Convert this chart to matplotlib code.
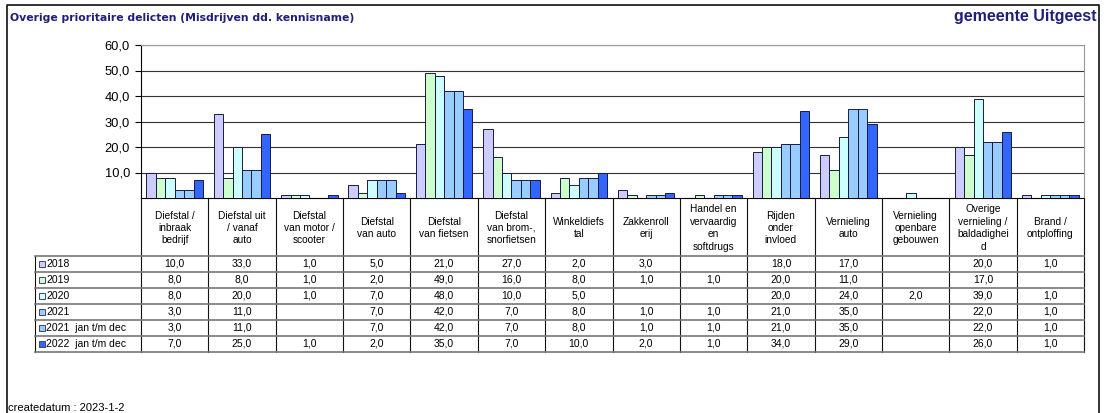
import numpy as np
import matplotlib
matplotlib.use('Agg')
import matplotlib.pyplot as plt
from matplotlib.patches import Rectangle

plt.rcParams['font.family'] = ['Liberation Sans', 'DejaVu Sans']

categories = ["Diefstal /\ninbraak\nbedrijf", "Diefstal uit\n/ vanaf\nauto",
              "Diefstal\nvan motor /\nscooter", "Diefstal\nvan auto",
              "Diefstal\nvan fietsen", "Diefstal\nvan brom-,\nsnorfietsen",
              "Winkeldiefs\ntal", "Zakkenroll\nerij",
              "Handel en\nvervaardig\nen\nsoftdrugs", "Rijden\nonder\ninvloed",
              "Vernieling\nauto", "Vernieling\nopenbare\ngebouwen",
              "Overige\nvernieling /\nbaldadighei\nd", "Brand /\nontploffing"]

series_names = ["2018", "2019", "2020", "2021", "2021  jan t/m dec", "2022  jan t/m dec"]
nan = np.nan
v2018 = [10, 33, 1, 5, 21, 27, 2, 3, nan, 18, 17, nan, 20, 1]
v2019 = [8, 8, 1, 2, 49, 16, 8, 1, 1, 20, 11, nan, 17, nan]
v2020 = [8, 20, 1, 7, 48, 10, 5, nan, nan, 20, 24, 2, 39, 1]
v2021 = [3, 11, nan, 7, 42, 7, 8, 1, 1, 21, 35, nan, 22, 1]
v2021_jd = [3, 11, nan, 7, 42, 7, 8, 1, 1, 21, 35, nan, 22, 1]
v2022_jd = [7, 25, 1, 2, 35, 7, 10, 2, 1, 34, 29, nan, 26, 1]
series = [v2018, v2019, v2020, v2021, v2021_jd, v2022_jd]
colors = ['#ccccff', '#ccffcc', '#ccffff', '#99ccff', '#99ccff', '#3366ff']

W, H = 1106, 413
fig = plt.figure(figsize=(W / 100, H / 100), dpi=100)

# plot area in pixels
px_l, px_r, px_t, px_b = 141, 1084, 45, 198
ax = fig.add_axes([px_l / W, 1 - px_b / H, (px_r - px_l) / W, (px_b - px_t) / H])
n = len(categories)
bw = 0.14
x = np.arange(n)
for k, (vals, c) in enumerate(zip(series, colors)):
    ax.bar(x + 0.08 + k * bw, vals, width=bw, align='edge', color=c,
           edgecolor='#1a1a40', linewidth=0.7, zorder=3)
ax.set_xlim(0, n)
ax.set_ylim(0, 60)
yt = [10, 20, 30, 40, 50, 60]
ax.set_yticks(yt)
ax.set_yticklabels([('%.1f' % t).replace('.', ',') for t in yt])
ax.tick_params(axis='y', length=4, width=0.8, labelsize=9.3, pad=4)
ax.set_xticks([])
ax.grid(axis='y', color='#333333', linewidth=0.8, zorder=0)
for s in ['top', 'right']:
    ax.spines[s].set_color('#999999')
ax.spines['left'].set_color('black')
ax.spines['bottom'].set_color('black')

# overlay in pixel coordinates for frame, titles and table
ov = fig.add_axes([0, 0, 1, 1], zorder=5)
ov.set_xlim(0, W)
ov.set_ylim(H, 0)
ov.axis('off')
ov.patch.set_alpha(0)

ov.plot([7, 7, 1099, 1099], [H, 5, 5, H], color='#222222', lw=1.3)
ov.text(10, 18, "Overige prioritaire delicten (Misdrijven dd. kennisname)",
        fontsize=7.8, fontweight='bold', color='#1f1f7a', va='center',
        family=['DejaVu Sans'])
ov.text(1097, 17, "gemeente Uitgeest", fontsize=11.5, fontweight='bold',
        color='#1f1f7a', va='center', ha='right')
ov.text(8, 408, "createdatum : 2023-1-2", fontsize=8, va='center')

# table
col_w = (px_r - px_l) / n
hdr_t, hdr_b = 198, 256
row_h = 16
lab_l = 35
nrows = len(series)
tab_b = hdr_b + nrows * row_h
for i in range(n + 1):
    xx = px_l + i * col_w
    ov.plot([xx, xx], [hdr_t, tab_b], color='#111111', lw=0.8)
ov.plot([lab_l, lab_l], [hdr_b, tab_b], color='#111111', lw=0.8)
for r in range(nrows + 1):
    yy = hdr_b + r * row_h
    ov.plot([lab_l, px_r], [yy, yy], color='#777777', lw=1.2)

for i, cat in enumerate(categories):
    ov.text(px_l + (i + 0.5) * col_w, (hdr_t + hdr_b) / 2 + 1, cat, ha='center',
            va='center', fontsize=7.3, linespacing=1.3)

for r, (name, vals, c) in enumerate(zip(series_names, series, colors)):
    yc = hdr_b + (r + 0.5) * row_h
    ov.add_patch(Rectangle((38.5, yc - 3), 6, 6, facecolor=c, edgecolor='#444466', lw=0.7))
    ov.text(46, yc, name, fontsize=7.5, va='center')
    for i, v in enumerate(vals):
        if not np.isnan(v):
            ov.text(px_l + (i + 0.5) * col_w, yc, ('%.1f' % v).replace('.', ','),
                    ha='center', va='center', fontsize=7.5)

fig.savefig('out.png', dpi=100)
